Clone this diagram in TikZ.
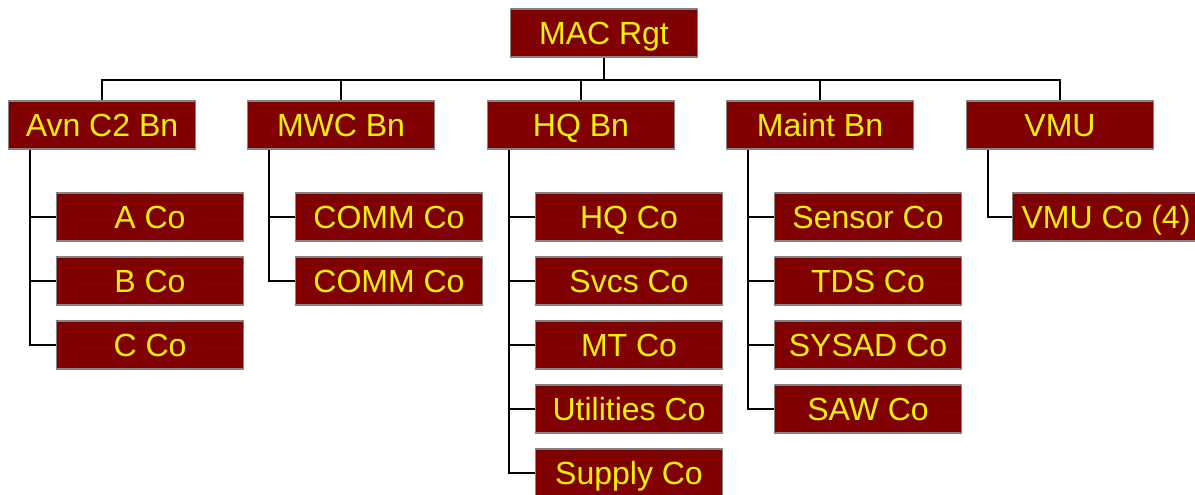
\documentclass[tikz,border=0pt]{standalone}
\usepackage{fontspec}
\setmainfont{Liberation Sans}
\usetikzlibrary{positioning}
\definecolor{unitred}{HTML}{800000}
\definecolor{unitedge}{HTML}{858585}
\tikzset{
	unit/.style={draw=unitedge, line width=0.9pt, fill=unitred, text=yellow,
		minimum width=93.5pt, minimum height=24pt, inner sep=0pt,
		text height=11.4pt, text depth=0pt,
		font=\fontsize{16}{18}\selectfont},
	link/.style={line width=1pt, black},
}

\begin{document}
\begin{tikzpicture}[x=0.5pt, y=-0.5pt]
		\useasboundingbox (0,0) rectangle (1195,494);
		% regiment
		\node[unit] (rgt) at (604,33) {MAC Rgt};
		% battalions
		\node[unit] (avn) at (102,125) {Avn C2 Bn};
		\node[unit] (mwc) at (341,125) {MWC Bn};
		\node[unit] (hq) at (581,125) {HQ Bn};
		\node[unit] (maint) at (820,125) {Maint Bn};
		\node[unit] (vmu) at (1060,125) {VMU};
		% companies
		\node[unit] (aco) at (150,217) {A Co};
		\node[unit] (bco) at (150,281) {B Co};
		\node[unit] (cco) at (150,345) {C Co};
		\node[unit] (commone) at (389,217) {COMM Co};
		\node[unit] (commtwo) at (389,281) {COMM Co};
		\node[unit] (hqco) at (629,217) {HQ Co};
		\node[unit] (svcsco) at (629,281) {Svcs Co};
		\node[unit] (mtco) at (629,345) {MT Co};
		\node[unit] (utilco) at (629,409) {Utilities Co};
		\node[unit] (supco) at (629,473) {Supply Co};
		\node[unit] (sensco) at (868,217) {Sensor Co};
		\node[unit] (tdsco) at (868,281) {TDS Co};
		\node[unit] (sysco) at (868,345) {SYSAD Co};
		\node[unit] (sawco) at (868,409) {SAW Co};
		\node[unit] (vmuco) at (1106,217) {VMU Co (4)};
		
		% regiment to battalions
		\draw[link] (rgt.south) -- ++(0,22) -| (avn.north);
		\draw[link] (rgt.south) -- ++(0,22) -| (mwc.north);
		\draw[link] (rgt.south) -- ++(0,22) -| (hq.north);
		\draw[link] (rgt.south) -- ++(0,22) -| (maint.north);
		\draw[link] (rgt.south) -- ++(0,22) -| (vmu.north);
		% battalions to companies
		\draw[link] ([xshift=11pt]avn.south west) |- (aco.west);
		\draw[link] ([xshift=11pt]avn.south west) |- (bco.west);
		\draw[link] ([xshift=11pt]avn.south west) |- (cco.west);
		\draw[link] ([xshift=11pt]mwc.south west) |- (commone.west);
		\draw[link] ([xshift=11pt]mwc.south west) |- (commtwo.west);
		\draw[link] ([xshift=11pt]hq.south west) |- (hqco.west);
		\draw[link] ([xshift=11pt]hq.south west) |- (svcsco.west);
		\draw[link] ([xshift=11pt]hq.south west) |- (mtco.west);
		\draw[link] ([xshift=11pt]hq.south west) |- (utilco.west);
		\draw[link] ([xshift=11pt]hq.south west) |- (supco.west);
		\draw[link] ([xshift=11pt]maint.south west) |- (sensco.west);
		\draw[link] ([xshift=11pt]maint.south west) |- (tdsco.west);
		\draw[link] ([xshift=11pt]maint.south west) |- (sysco.west);
		\draw[link] ([xshift=11pt]maint.south west) |- (sawco.west);
		\draw[link] ([xshift=11pt]vmu.south west) |- (vmuco.west);
	\end{tikzpicture}
\end{document}
